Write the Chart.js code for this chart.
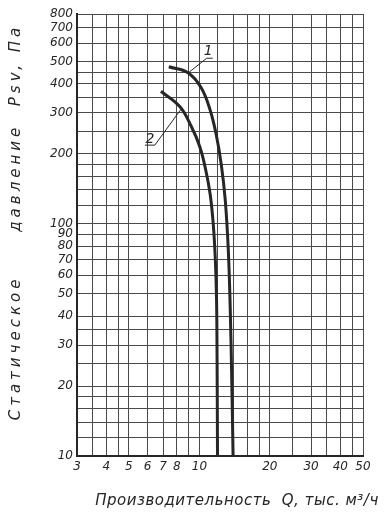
<!DOCTYPE html>
<html>
<head>
<meta charset="utf-8">
<style>
  html, body { margin: 0; padding: 0; background: #fff; }
  #wrap { width: 390px; height: 516px; }
</style>
</head>
<body>
<div id="wrap"><canvas id="chart" width="390" height="516"></canvas></div>
<script src="https://cdn.jsdelivr.net/npm/chart.js"></script>
<script>
  // grid lines and labelled ticks (log-log paper)
  const xGrid = [3, 3.5, 4, 4.5, 5, 6, 7, 8, 9, 10, 12, 14, 16, 18, 20, 25, 30, 35, 40, 45, 50];
  const xLabels = [3, 4, 5, 6, 7, 8, 10, 20, 30, 40, 50];
  const yGrid = [10, 12, 14, 16, 18, 20, 25, 30, 35, 40, 50, 60, 70, 80, 90, 100,
    120, 140, 160, 180, 200, 250, 300, 350, 400, 450, 500, 600, 700, 800];
  const yLabels = [10, 20, 30, 40, 50, 60, 70, 80, 90, 100, 200, 300, 400, 500, 600, 700, 800];

  // curve 1
  const q1 = [7.4, 8.93, 10.15, 11.08, 11.81, 12.41, 12.9, 13.29, 13.55, 13.75, 13.93];
  const p1 = [474, 447, 387, 312, 241, 179, 126, 77, 42.5, 21.2, 10];
  // curve 2
  const q2 = [6.85, 8.26, 9.26, 10.05, 10.65, 11.13, 11.47, 11.7, 11.84, 11.9, 11.95];
  const p2 = [372, 319, 261, 214, 170, 133, 98.7, 69.8, 46.9, 25.9, 10];

  // leader lines to the curve numbers
  const lead1Q = [8.95, 10.75, 11.4];
  const lead1P = [446, 516, 516];
  const lead2Q = [8.4, 6.45, 5.85];
  const lead2P = [314, 218, 218];
  const curveNames = ["1", "2"];
  const nameQ = [10.9, 6.15];
  const nameP = [522, 218];

  const ink = "#262626";
  const gridInk = "#4a4a4a";
  const tickFont = { family: "DejaVu Sans", size: 12, style: "italic" };

  const pts = (xs, ys) => xs.map((x, i) => ({ x: x, y: ys[i] }));

  const annotate = {
    id: "annotate",
    afterDraw(chart) {
      const { ctx, scales } = chart;
      ctx.save();
      ctx.fillStyle = ink;
      ctx.font = "italic 14px 'DejaVu Sans'";
      ctx.textAlign = "center";
      ctx.textBaseline = "alphabetic";
      curveNames.forEach((n, i) => {
        ctx.fillText(n, scales.x.getPixelForValue(nameQ[i]), scales.y.getPixelForValue(nameP[i]) - 2);
      });
      // axis titles
      ctx.font = "italic 15px 'DejaVu Sans'";
      ctx.letterSpacing = "0.5px";
      ctx.fillText("Производительность  Q, тыс. м³/ч", 237, 505);
      ctx.translate(20, 222);
      ctx.rotate(-Math.PI / 2);
      ctx.letterSpacing = "4px";
      ctx.fillText("Статическое     давление  Psv, Па", 0, 0);
      ctx.restore();
    },
  };

  new Chart(document.getElementById("chart"), {
    type: "line",
    data: {
      datasets: [
        { data: pts(q1, p1), borderColor: ink, borderWidth: 3, tension: 0.4 },
        { data: pts(q2, p2), borderColor: ink, borderWidth: 3, tension: 0.4 },
        { data: pts(lead1Q, lead1P), borderColor: ink, borderWidth: 1 },
        { data: pts(lead2Q, lead2P), borderColor: ink, borderWidth: 1 },
      ],
    },
    options: {
      responsive: false,
      animation: false,
      elements: { point: { radius: 0 }, line: { fill: false } },
      layout: { padding: { top: 14, right: 27, left: 0, bottom: 0 } },
      plugins: { legend: { display: false }, tooltip: { enabled: false } },
      scales: {
        x: {
          type: "logarithmic",
          min: 3,
          max: 50,
          afterBuildTicks: (s) => { s.ticks = xGrid.map((v) => ({ value: v })); },
          afterFit: (s) => { s.height = 60; },
          grid: { color: gridInk, lineWidth: 1, drawTicks: false },
          border: { color: ink, width: 2 },
          ticks: {
            autoSkip: false,
            maxRotation: 0,
            padding: 4,
            color: ink,
            font: tickFont,
            callback: (v) => (xLabels.includes(v) ? String(v) : ""),
          },
        },
        y: {
          type: "logarithmic",
          min: 10,
          max: 800,
          afterBuildTicks: (s) => { s.ticks = yGrid.map((v) => ({ value: v })); },
          afterFit: (s) => { s.width = 77; },
          grid: { color: gridInk, lineWidth: 1, drawTicks: false },
          border: { color: ink, width: 2 },
          ticks: {
            autoSkip: false,
            padding: 4,
            color: ink,
            font: tickFont,
            callback: (v) => (yLabels.includes(v) ? String(v) : ""),
          },
        },
      },
    },
    plugins: [annotate],
  });
</script>
</body>
</html>
